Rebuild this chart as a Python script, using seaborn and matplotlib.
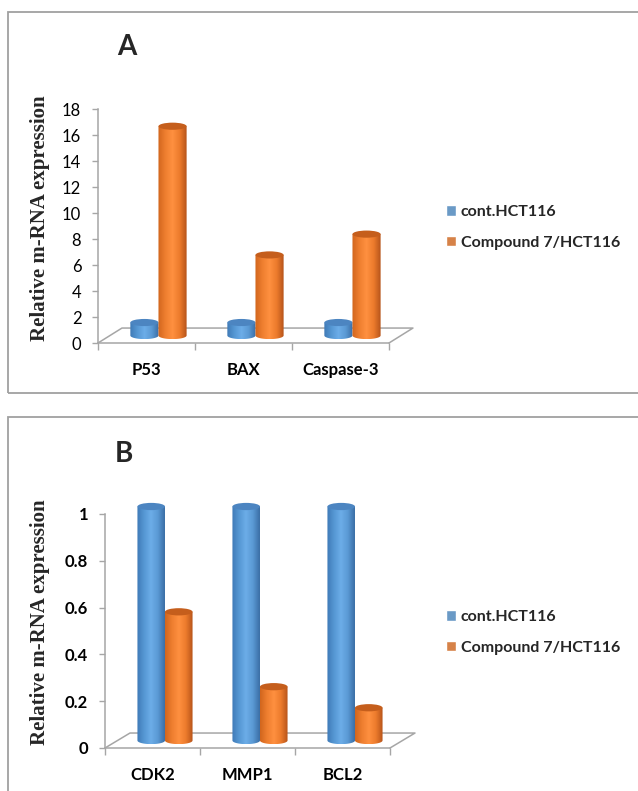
import numpy as np
import pandas as pd
import matplotlib
matplotlib.use("Agg")
import matplotlib.pyplot as plt
import seaborn as sns
from matplotlib.colors import LinearSegmentedColormap
from matplotlib.patches import Polygon, Ellipse, Rectangle

OUTPUT_PATH = "out.png"

GROUPS = ["cont.HCT116", "Compound 7/HCT116"]

GENES_A = ["P53", "BAX", "Caspase-3"]
CONTROL_A = [1.0, 1.0, 1.0]
COMPOUND_A = [16.1, 6.2, 7.8]
YTICKS_A = [0, 2, 4, 6, 8, 10, 12, 14, 16, 18]

GENES_B = ["CDK2", "MMP1", "BCL2"]
CONTROL_B = [1.0, 1.0, 1.0]
COMPOUND_B = [0.55, 0.23, 0.14]
YTICKS_B = [0, 0.2, 0.4, 0.6, 0.8, 1.0]
YTICKLABELS_B = ["0", "0.2", "0.4", "0.6", "0.8", "1"]

BLUE = "#5B9BD5"
ORANGE = "#ED7D31"
SHADES = {
    BLUE: ["#3F79B6", "#5597D3", "#6CADE8", "#5A99D4", "#3A6DA5"],
    ORANGE: ["#D0651D", "#EE7E2F", "#FF9040", "#EC7B2C", "#B5531A"],
}
TOPS = {BLUE: "#4C85C1", ORANGE: "#C55E1C"}
AXIS_GRAY = "#A6A6A6"
FIG_W, FIG_H = 638, 791


def px_box(left, top, right, bottom):
    # pixel box (from top-left) -> figure fraction rect
    return [left / FIG_W, 1 - bottom / FIG_H, (right - left) / FIG_W, (bottom - top) / FIG_H]


def make_frame(fig, left, top, right, bottom):
    x, y, w, h = px_box(left, top, right, bottom)
    fig.patches.append(Rectangle((x, y), w, h, transform=fig.transFigure,
                                 fill=False, edgecolor="#A0A0A0", linewidth=1.3))


def draw_cylinder(ax, x0, w, y0, h, ell, color, z):
    cmap = LinearSegmentedColormap.from_list("cyl", SHADES[color])
    grad = np.linspace(0, 1, 256).reshape(1, -1)
    t = np.linspace(np.pi, 2 * np.pi, 40)
    xc = x0 + w / 2
    arc = list(zip(xc + (w / 2) * np.cos(t), y0 + (ell / 2) * np.sin(t)))
    verts = [(x0, y0 + h)] + arc + [(x0 + w, y0 + h)]
    clip = Polygon(verts, closed=True, facecolor="none", edgecolor="none")
    ax.add_patch(clip)
    im = ax.imshow(grad, cmap=cmap, extent=(x0, x0 + w, y0 - ell / 2, y0 + h),
                   aspect="auto", interpolation="bilinear", zorder=z)
    im.set_clip_box(ax.figure.bbox)
    im.set_clip_path(clip)
    ax.add_patch(Ellipse((xc, y0 + h), w, ell, facecolor=TOPS[color],
                         edgecolor="none", zorder=z + 0.1, clip_on=False))


def plot_panel(fig, rect, genes, control, compound, yticks, yticklabels, ymax,
               depth_dx, depth_dy, ell, tick_weight):
    ax = fig.add_axes(rect)
    df = pd.DataFrame({
        "Gene": genes * 2,
        "Value": list(control) + list(compound),
        "Group": [GROUPS[0]] * len(genes) + [GROUPS[1]] * len(genes),
    })
    sns.barplot(data=df, x="Gene", y="Value", hue="Group", palette=[BLUE, ORANGE],
                width=0.58, ax=ax, errorbar=None)

    for container, color in zip(ax.containers, [BLUE, ORANGE]):
        for bar in container:
            x0, w, h = bar.get_x(), bar.get_width(), bar.get_height()
            bar.set_visible(False)
            draw_cylinder(ax, x0 + depth_dx / 2, w, depth_dy / 2, h, ell, color,
                          3 if color == BLUE else 4)

    # 3D floor outline
    n = len(genes)
    x_l, x_r = -0.5, n - 0.5
    floor_x = [x_l, x_l + depth_dx, x_r + depth_dx, x_r]
    floor_y = [0, depth_dy, depth_dy, 0]
    ax.plot(floor_x, floor_y, color=AXIS_GRAY, linewidth=1.1, clip_on=False, zorder=1)

    ax.set_xlim(x_l, x_r)
    ax.set_ylim(0, ymax)
    ax.set_facecolor("none")
    for side in ["top", "right"]:
        ax.spines[side].set_visible(False)
    for side in ["left", "bottom"]:
        ax.spines[side].set_color(AXIS_GRAY)
        ax.spines[side].set_linewidth(1.1)

    ax.set_yticks(yticks)
    ax.set_yticklabels(yticklabels, fontsize=12, fontweight=tick_weight,
                       family="Lato", color="black")
    ax.tick_params(axis="y", length=4, width=1, color=AXIS_GRAY, pad=8, left=True)
    ax.set_xticks(range(n))
    ax.set_xticklabels(genes, fontsize=12, fontweight="bold", family="Lato", color="black")
    ax.set_xticks([i - 0.5 for i in range(n + 1)], minor=True)
    ax.tick_params(axis="x", which="major", length=0, pad=14)
    ax.tick_params(axis="x", which="minor", length=5, width=1, color=AXIS_GRAY, bottom=True)
    ax.set_xlabel("")
    ax.set_ylabel("")
    return ax


def place_legend(ax, left_px, top_px):
    sns.move_legend(ax, "upper left", bbox_to_anchor=(left_px / FIG_W, 1 - top_px / FIG_H),
                    bbox_transform=ax.figure.transFigure, title=None, frameon=False,
                    borderaxespad=0, borderpad=0, handlelength=0.62, handleheight=0.62,
                    handletextpad=0.3, labelspacing=1.05,
                    prop={"family": "Lato", "weight": "bold", "size": 11.5})


def run():
    sns.set_theme(style="white")
    plt.rcParams["font.family"] = ["Lato", "DejaVu Sans"]
    fig = plt.figure(figsize=(FIG_W / 100, FIG_H / 100), dpi=100)
    fig.patch.set_facecolor("white")

    make_frame(fig, 8, 12, 660, 393)
    make_frame(fig, 8, 417, 660, 820)

    ax_a = plot_panel(fig, px_box(98, 109, 389, 343), GENES_A, CONTROL_A, COMPOUND_A,
                      YTICKS_A, [str(v) for v in YTICKS_A], 18,
                      depth_dx=0.247, depth_dy=1.15, ell=0.55, tick_weight="normal")
    ax_b = plot_panel(fig, px_box(105, 514, 390, 748), GENES_B, CONTROL_B, COMPOUND_B,
                      YTICKS_B, YTICKLABELS_B, 1.0,
                      depth_dx=0.263, depth_dy=0.064, ell=0.031, tick_weight="bold")

    place_legend(ax_a, 446, 205)
    place_legend(ax_b, 446, 610)

    fig.text(127 / FIG_W, 1 - 55 / FIG_H, "A", fontsize=20, fontweight="bold",
             family="Lato", ha="center", va="baseline")
    fig.text(124 / FIG_W, 1 - 462 / FIG_H, "B", fontsize=20, fontweight="bold",
             family="Lato", ha="center", va="baseline")
    for yc in [218, 622]:
        fig.text(40 / FIG_W, 1 - yc / FIG_H, "Relative m-RNA expression", rotation=90,
                 fontsize=15, fontweight="bold", family="Liberation Serif",
                 ha="center", va="center")

    fig.savefig(OUTPUT_PATH, dpi=100)
    plt.close(fig)


if __name__ == "__main__":
    run()
